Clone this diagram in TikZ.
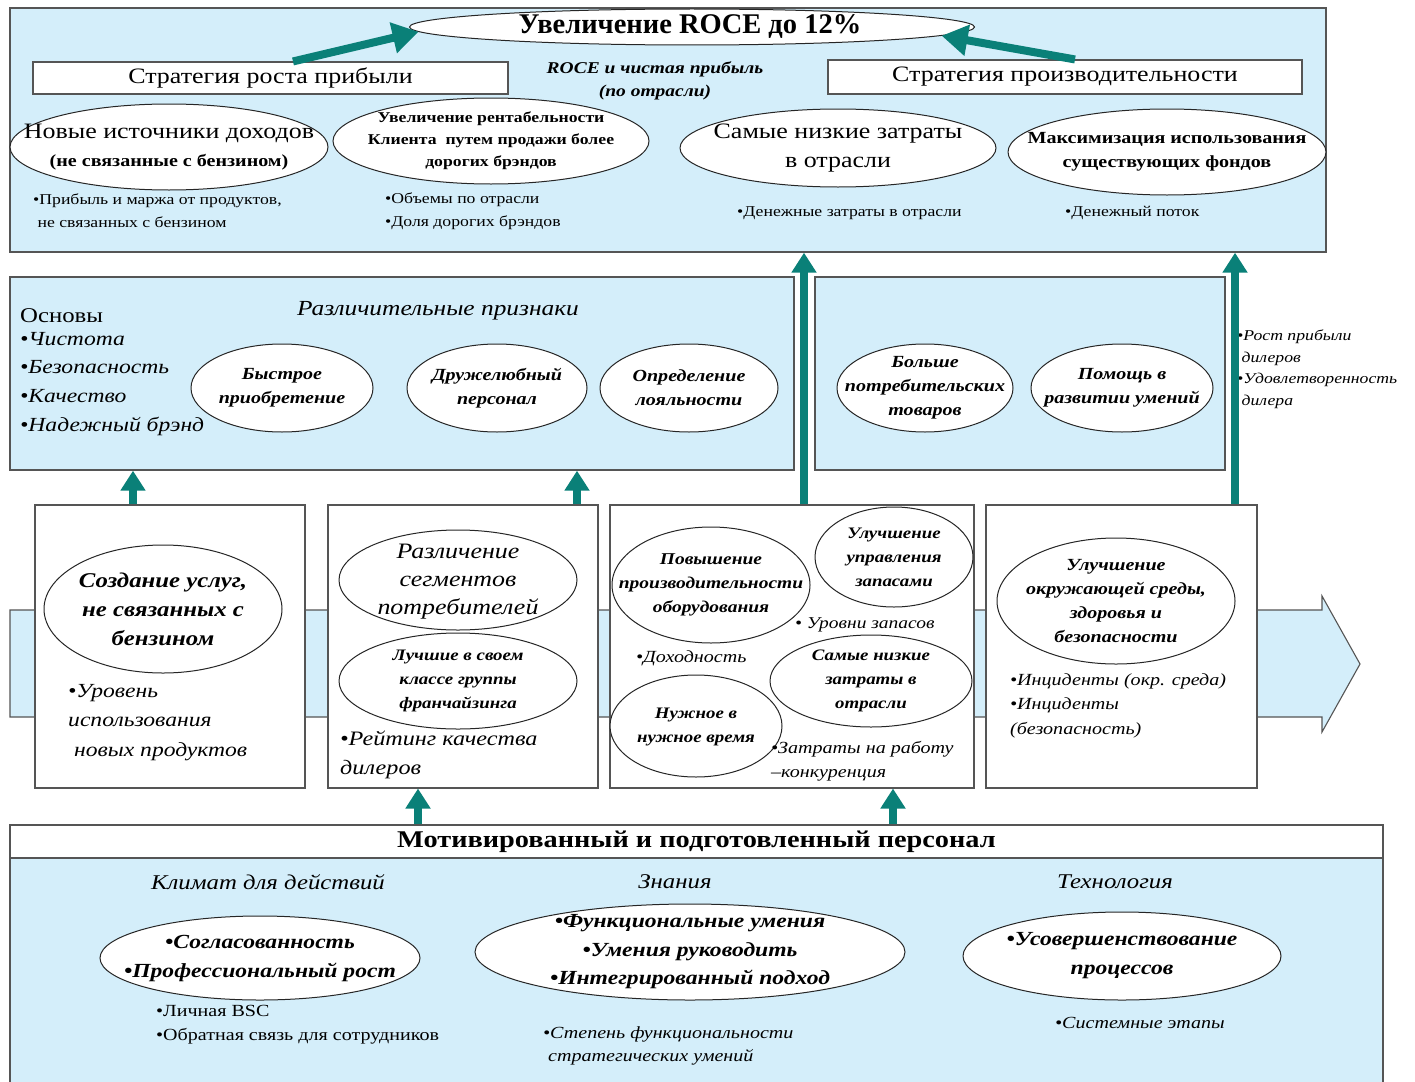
\documentclass[tikz,border=0pt]{standalone}
\usepackage{fontspec}
\setmainfont{Liberation Serif}[FakeStretch=1.18]
\newfontfamily\titlefont{Liberation Serif}
\usetikzlibrary{shapes.geometric,arrows.meta}
\definecolor{paleblue}{RGB}{212,238,250}
\definecolor{tealarrow}{RGB}{10,128,120}
\definecolor{edge}{RGB}{85,85,85}
\newcommand{\fsz}[2]{\fontsize{#1}{#2}\selectfont}

\begin{document}
\begin{tikzpicture}[x=1pt,y=-1pt,
  panel/.style={draw=edge,line width=1.4pt,fill=paleblue,inner sep=0pt},
  card/.style={draw=edge,line width=1.1pt,fill=white,inner sep=0pt},
  oval/.style={ellipse,draw=black!85,line width=1pt,fill=white,inner sep=0pt},
  otext/.style={inner sep=0pt,align=center},
  note/.style={inner sep=0pt,align=left,anchor=north west},
  upar/.style={draw=tealarrow,line width=8pt,-{Triangle[length=20pt,width=24pt]}},
  bigar/.style={draw=tealarrow,line width=8pt,-{Triangle[length=26pt,width=30pt]}},
]
\useasboundingbox (0,0) rectangle (1415,1081);
\fill[white] (0,0) rectangle (1415,1081);

% ---------- top level: ROCE goal ----------
\node[panel,minimum width=1316,minimum height=244] (top) at (668,130) {};
\node[oval,minimum width=565,minimum height=36] (goal) at (692,27) {};
\node[otext,font=\titlefont\fsz{28.5}{30}\bfseries] (goalt) at (690,27) {Увеличение ROCE до 12\%};

\node[card,minimum width=475,minimum height=32] (sgrow) at (270.5,78)
  {\fsz{22}{26}Стратегия роста прибыли};
\node[card,minimum width=474,minimum height=34] (sprod) at (1065,77)
  {\fsz{22}{26}Стратегия производительности};
\node[otext,font=\fsz{16.5}{23}\bfseries\itshape] (roce) at (655,81)
  {ROCE и чистая прибыль\\(по отрасли)};

\coordinate (ta1) at (293,0);
\coordinate (ta2) at (1075,0);
\draw[bigar] (sgrow.north -| ta1) -- (goal.181.5);
\draw[bigar] (sprod.north -| ta2) -- (goal.358.5);

\node[oval,minimum width=318,minimum height=86] (e1) at (169,147) {};
\node[otext,font=\fsz{22}{27}] (e1t) at (e1) {Новые источники доходов\\[1pt]{\fsz{17}{20}\bfseries(не связанные с бензином)}};
\node[oval,minimum width=316,minimum height=86] (e2) at (491,141) {};
\node[otext,font=\fsz{15}{22}\bfseries] (e2t) at (e2) {Увеличение рентабельности\\Клиента\ \ путем продажи более\\дорогих брэндов};
\node[oval,minimum width=316,minimum height=78] (e3) at (838,148) {};
\node[otext,font=\fsz{22}{29}] (e3t) at (e3) {Самые низкие затраты\\в отрасли};
\node[oval,minimum width=318,minimum height=86] (e4) at (1167,152) {};
\node[otext,font=\fsz{17}{24}\bfseries] (e4t) at (e4) {Максимизация использования\\существующих фондов};

\node[note,font=\fsz{15}{23}] (m1) at (33,194) {•Прибыль и маржа от продуктов,\\\ не связанных с бензином};
\node[note,font=\fsz{15}{23}] (m2) at (385,193) {•Объемы по отрасли\\•Доля дорогих брэндов};
\node[note,font=\fsz{15}{23}] (m3) at (737,206) {•Денежные затраты в отрасли};
\node[note,font=\fsz{15}{23}] (m4) at (1065,206) {•Денежный поток};

% ---------- customer level ----------
\node[panel,minimum width=784,minimum height=193] (boxA) at (402,373.5) {};
\node[panel,minimum width=410,minimum height=193] (boxB) at (1020,373.5) {};

\node[inner sep=0pt,anchor=west,font=\fsz{21}{24}] (osn) at (20,316) {Основы};
\node[note,font=\fsz{20}{28.6}\itshape] (osnl) at (20,332) {•Чистота\\•Безопасность\\•Качество\\•Надежный брэнд};
\node[otext,font=\fsz{21.5}{24}\itshape] (diff) at (438,311) {Различительные признаки};

\node[oval,minimum width=182,minimum height=88] (d1) at (282,388) {};
\node[otext,font=\fsz{17}{24}\bfseries\itshape] (d1t) at (d1) {Быстрое\\приобретение};
\node[oval,minimum width=180,minimum height=88] (d2) at (497,388) {};
\node[otext,font=\fsz{17}{24}\bfseries\itshape] (d2t) at (d2) {Дружелюбный\\персонал};
\node[oval,minimum width=178,minimum height=88] (d3) at (689,388) {};
\node[otext,font=\fsz{17}{24}\bfseries\itshape] (d3t) at (d3) {Определение\\лояльности};
\node[oval,minimum width=176,minimum height=88] (b1) at (925,388) {};
\node[otext,font=\fsz{17}{24}\bfseries\itshape] (b1t) at (b1) {Больше\\потребительских\\товаров};
\node[oval,minimum width=182,minimum height=88] (b2) at (1122,388) {};
\node[otext,font=\fsz{17}{24}\bfseries\itshape] (b2t) at (b2) {Помощь в\\развитии умений};

\node[note,font=\fsz{15}{21.5}\itshape] (dealer) at (1237,330) {•Рост прибыли\\\ дилеров\\•Удовлетворенность\\\ дилера};

% ---------- process level: background band arrow ----------
\draw[draw=edge,line width=1.1pt,fill=paleblue]
  (10,610) -- (1322,610) -- (1322,596) -- (1360,664) -- (1322,732) -- (1322,717) -- (10,717) -- cycle;

\node[card,minimum width=270,minimum height=283] (p1) at (170,646.5) {};
\node[card,minimum width=270,minimum height=283] (p2) at (463,646.5) {};
\node[card,minimum width=364,minimum height=283] (p3) at (792,646.5) {};
\node[card,minimum width=271,minimum height=283] (p4) at (1121.5,646.5) {};

\node[oval,minimum width=238,minimum height=128] (c1) at (163,609) {};
\node[otext,font=\fsz{21}{29}\bfseries\itshape] (c1t) at (c1) {Создание услуг,\\не связанных с\\бензином};
\node[note,font=\fsz{20}{29.5}\itshape] (c1n) at (68,684) {•Уровень\\использования\\\ новых продуктов};

\node[oval,minimum width=238,minimum height=100] (s1) at (458,580) {};
\node[otext,font=\fsz{22}{28}\itshape] (s1t) at (458,582) {Различение\\сегментов\\потребителей};
\node[oval,minimum width=238,minimum height=96] (s2) at (458,681) {};
\node[otext,font=\fsz{16}{24}\bfseries\itshape] (s2t) at (s2) {Лучшие в своем\\классе группы\\франчайзинга};
\node[note,font=\fsz{20.5}{29}\itshape] (s2n) at (340,731) {•Рейтинг качества\\дилеров};

\node[oval,minimum width=198,minimum height=116] (q1) at (711,585) {};
\node[otext,font=\fsz{16.5}{24}\bfseries\itshape] (q1t) at (q1) {Повышение\\производительности\\оборудования};
\node[oval,minimum width=158,minimum height=100] (q2) at (894,557) {};
\node[otext,font=\fsz{16}{24}\bfseries\itshape] (q2t) at (q2) {Улучшение\\управления\\запасами};
\node[note,font=\fsz{16.5}{24}\itshape] (q2n) at (795,617) {• Уровни запасов};
\node[note,font=\fsz{17}{24}\itshape] (q1n) at (636,650) {•Доходность};
\node[oval,minimum width=202,minimum height=92] (q3) at (871,681) {};
\node[otext,font=\fsz{16}{24}\bfseries\itshape] (q3t) at (q3) {Самые низкие\\затраты в\\отрасли};
\node[oval,minimum width=172,minimum height=102] (q4) at (696,726) {};
\node[otext,font=\fsz{16}{24}\bfseries\itshape] (q4t) at (696,727) {Нужное в\\нужное время};
\node[note,font=\fsz{17}{24}\itshape] (q3n) at (771,741) {•Затраты на работу\\–конкуренция};

\node[oval,minimum width=238,minimum height=126] (w1) at (1116,601) {};
\node[otext,font=\fsz{17}{23.7}\bfseries\itshape] (w1t) at (w1) {Улучшение\\окружающей среды,\\здоровья и\\безопасности};
\node[note,font=\fsz{17}{24.5}\itshape] (w1n) at (1010,673) {•Инциденты (окр. среда)\\•Инциденты\\(безопасность)};

% ---------- learning and growth level ----------
\node[panel,minimum width=1373,minimum height=258] (base) at (696.5,954) {};
\node[card,line width=1.4pt,minimum width=1373,minimum height=33] (head) at (696.5,841.5)
  {\fsz{24}{28}\bfseries Мотивированный и подготовленный персонал};

\node[otext,font=\fsz{21}{24}\itshape] (clim) at (268,882) {Климат для действий};
\node[otext,font=\fsz{21}{24}\itshape] (know) at (675,882) {Знания};
\node[otext,font=\fsz{21}{24}\itshape] (tech) at (1115,882) {Технология};

\node[oval,minimum width=320,minimum height=84] (k1) at (260,958) {};
\node[otext,font=\fsz{20}{29}\bfseries\itshape] (k1t) at (k1) {•Согласованность\\•Профессиональный рост};
\node[oval,minimum width=430,minimum height=96] (k2) at (690,952) {};
\node[otext,font=\fsz{20}{28.5}\bfseries\itshape] (k2t) at (k2) {•Функциональные умения\\•Умения руководить\\•Интегрированный подход};
\node[oval,minimum width=318,minimum height=88] (k3) at (1122,956) {};
\node[otext,font=\fsz{20}{29}\bfseries\itshape] (k3t) at (k3) {•Усовершенствование\\процессов};

\node[note,font=\fsz{17}{24}] (k1n) at (156,1005) {•Личная BSC\\•Обратная связь для сотрудников};
\node[note,font=\fsz{17}{23}\itshape] (k2n) at (543,1026) {•Степень функциональности\\\ стратегических умений};
\node[note,font=\fsz{17}{23}\itshape] (k3n) at (1055,1017) {•Системные этапы};

% ---------- vertical links ----------
\coordinate (va) at (133,0);
\coordinate (vb) at (577,0);
\coordinate (vc) at (804,0);
\coordinate (vd) at (1235,0);
\coordinate (ve) at (418,0);
\coordinate (vf) at (893,0);
\draw[upar] (p1.north -| va) -- (boxA.south -| va);
\draw[upar] (p2.north -| vb) -- (boxA.south -| vb);
\draw[upar] (p3.north -| vc) -- (top.south -| vc);
\draw[upar] (p4.north -| vd) -- (top.south -| vd);
\draw[upar] (head.north -| ve) -- (p2.south -| ve);
\draw[upar] (head.north -| vf) -- (p3.south -| vf);
\end{tikzpicture}
\end{document}
